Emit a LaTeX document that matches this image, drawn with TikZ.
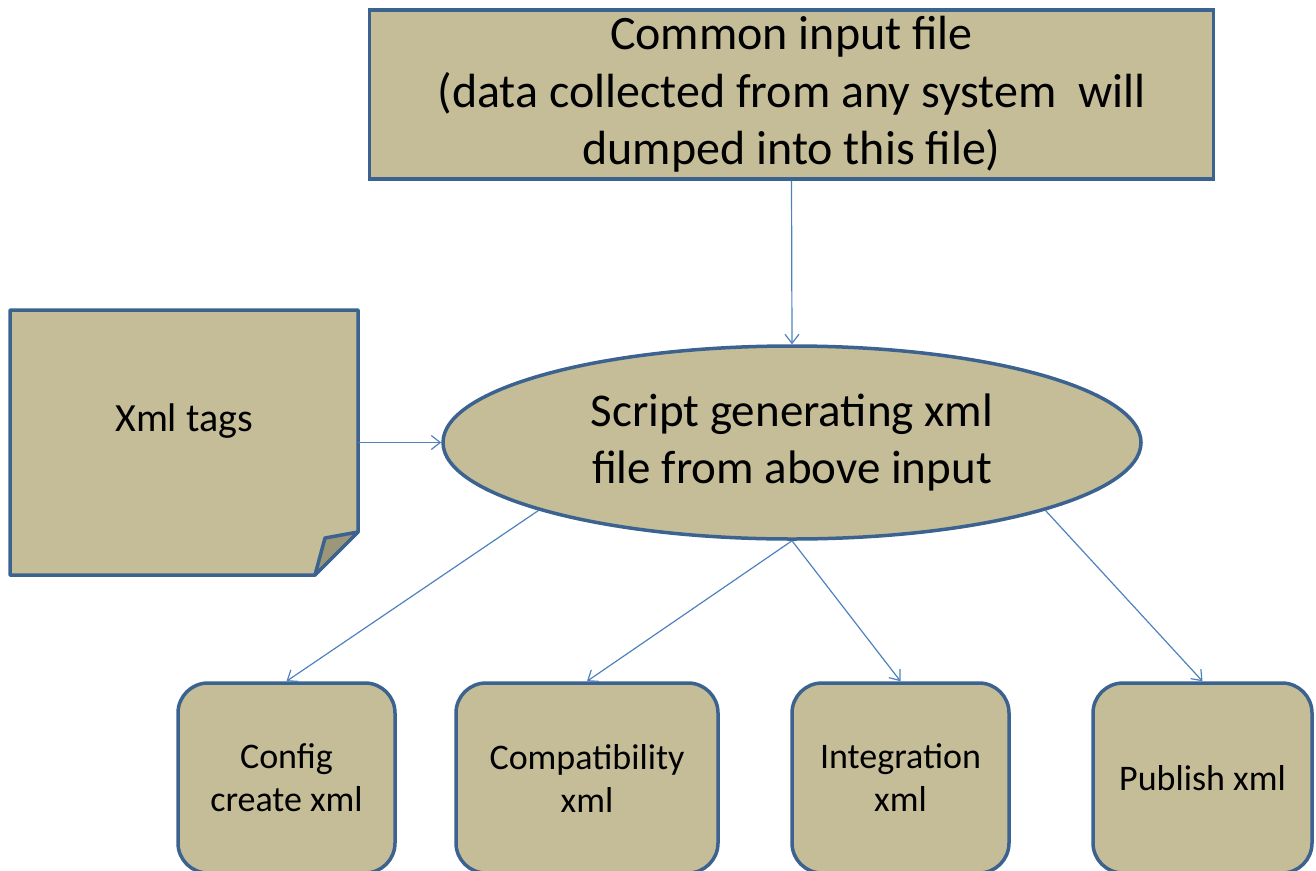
\documentclass[tikz,border=0pt]{standalone}
\usepackage{fontspec}
\setmainfont{Carlito}
\usetikzlibrary{shapes.geometric,arrows.meta}

\definecolor{boxfill}{HTML}{C4BD97}
\definecolor{foldfill}{HTML}{9D9779}
\definecolor{edgeblue}{HTML}{3C6290}
\definecolor{linkblue}{HTML}{4F81BD}

\tikzset{
  shapeline/.style={draw=edgeblue, line width=3.5pt, fill=boxfill},
  outbox/.style={shapeline, rounded corners=30pt, minimum height=190pt,
    inner sep=0pt, align=center, font=\fontsize{36}{43}\selectfont},
  link/.style={draw=linkblue, line width=1.2pt,
    -{Straight Barb[length=9pt,width=14pt,line width=1.2pt]}},
}

\begin{document}
\begin{tikzpicture}[x=1pt,y=-1pt]
  \useasboundingbox (0,0) rectangle (1316,870);

  % common input file
  \node[shapeline, minimum width=844pt, minimum height=169pt, inner sep=0pt,
        align=center, font=\fontsize{48}{57.5}\selectfont]
    (input) at (791.5,94.5)
    {Common input file\\(data collected from any system\ \ will\\dumped into this file)};

  % script ellipse
  \node[shapeline, ellipse, minimum width=698pt, minimum height=193pt, inner sep=0pt,
        align=center, font=\fontsize{47}{57}\selectfont]
    (script) at (792,442.5)
    {Script generating xml\\file from above input};

  % note with a folded corner
  \coordinate (ntl) at (10,310);
  \coordinate (ntr) at (358,310);
  \coordinate (nfa) at (358,532);
  \coordinate (nfb) at (315,575);
  \coordinate (nbl) at (10,575);
  \coordinate (nfc) at (325,538);
  \draw[shapeline, line join=round] (ntl) -- (ntr) -- (nfa) -- (nfb) -- (nbl) -- cycle;
  \draw[draw=edgeblue, line width=3.5pt, fill=foldfill, line join=round]
    (nfa) -- (nfc) -- (nfb) -- cycle;
  \node[font=\fontsize{40}{48}\selectfont] (tags) at (184,421) {Xml tags};
  \coordinate (noteright) at (358,442.5);

  % output boxes
  \node[outbox, minimum width=217pt] (config) at (286.5,778) {Config\\create xml};
  \node[outbox, minimum width=262pt] (compat) at (587,778) {Compatibility\\xml};
  \node[outbox, minimum width=217pt] (integ)  at (900.5,778) {Integration\\xml};
  \node[outbox, minimum width=219pt] (publish) at (1202.5,778) {Publish xml};

  % connectors
  \draw[link] (input.south) -- (script.north);
  \draw[link] (noteright) -- (script.west);
  \draw[link] (script.195.5) -- (config.north);
  \draw[link] (script.south) -- (compat.north);
  \draw[link] (script.south) -- (integ.north);
  \draw[link] (script.-15.5) -- (publish.north);
\end{tikzpicture}
\end{document}
